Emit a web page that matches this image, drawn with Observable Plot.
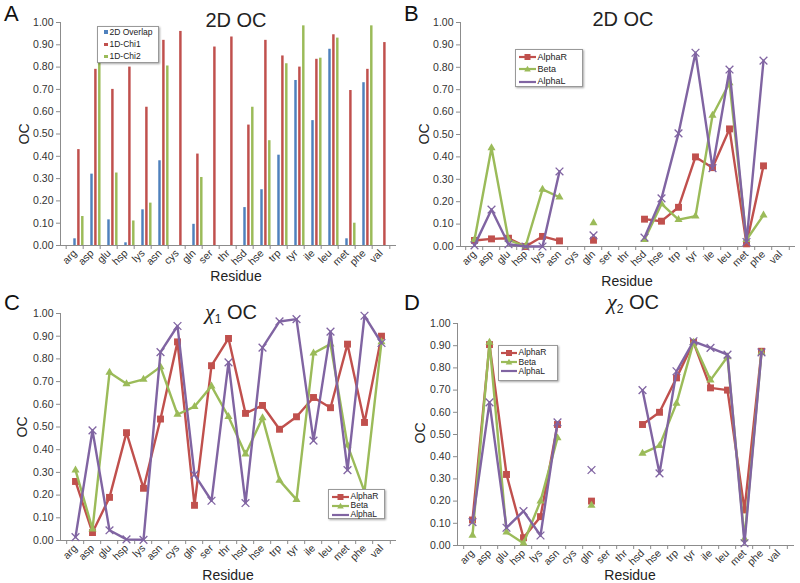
<!DOCTYPE html>
<html><head><meta charset="utf-8">
<script src="https://cdn.jsdelivr.net/npm/d3@7"></script>
<script src="https://cdn.jsdelivr.net/npm/@observablehq/plot@0.6"></script>
<style>
body{margin:0;background:#fff;font-family:"Liberation Sans",Arial,Helvetica,sans-serif;color:#222}
#wrap{position:relative;width:800px;height:583px;overflow:hidden;background:#fff}
.panel{position:absolute}
.t{position:absolute;white-space:nowrap;transform:translate(-50%,-50%);line-height:1}
.letter{position:absolute;font-size:22px;line-height:1;color:#111}
.legend{position:absolute;background:#fff;border:1px solid #999;box-shadow:1px 1px 2px rgba(0,0,0,0.35);box-sizing:border-box}
.row{position:absolute;left:0;display:flex;align-items:center;white-space:nowrap;line-height:1;color:#222}
</style></head>
<body><div id="wrap"></div>
<script>
// ---------------- data ----------------
const residues = ["arg","asp","glu","hsp","lys","asn","cys","gln","ser","thr","hsd","hse","trp","tyr","ile","leu","met","phe","val"];
const yTicks = [0,0.1,0.2,0.3,0.4,0.5,0.6,0.7,0.8,0.9,1.0];

// Panel A : 2D OC bars
const barSeries = ["2D Overlap","1D-Chi1","1D-Chi2"];
const overlap2D = [0.03,0.32,0.115,0.012,0.16,0.38,null,0.095,null,null,0.17,0.25,0.405,0.74,0.56,0.88,0.03,0.73,null];
const chi1_1D   = [0.43,0.79,0.70,0.80,0.62,0.92,0.96,0.41,0.89,0.935,0.54,0.92,0.85,0.80,0.835,0.945,0.695,0.79,0.91];
const chi2_1D   = [0.13,0.94,0.325,0.11,0.19,0.805,null,0.305,null,null,0.62,0.47,0.815,0.985,0.84,0.93,0.10,0.985,null];

// Panels B-D : line series
const lineSeries = ["AlphaR","Beta","AlphaL"];
// B : 2D OC
const oc2d_alphaR = [0.027,0.034,0.037,0.0,0.045,0.025,null,0.028,null,null,0.122,0.113,0.175,0.40,0.352,0.525,0.012,0.36,null];
const oc2d_beta   = [0.03,0.44,0.03,0.0,0.255,0.22,null,0.105,null,null,0.03,0.19,0.12,0.135,0.585,0.73,0.03,0.14,null];
const oc2d_alphaL = [0.005,0.165,0.01,0.0,0.0,0.335,null,0.05,null,null,0.04,0.215,0.505,0.865,0.35,0.79,0.02,0.83,null];
// C : chi1 OC
const chi1_alphaR = [0.26,0.035,0.19,0.475,0.23,0.535,0.875,0.155,0.77,0.89,0.56,0.595,0.49,0.545,0.63,0.585,0.865,0.52,0.90];
const chi1_beta   = [0.31,0.05,0.74,0.69,0.71,0.765,0.555,0.59,0.68,0.545,0.38,0.54,0.265,0.18,0.825,0.865,0.42,0.215,0.875];
const chi1_alphaL = [0.015,0.485,0.045,0.005,0.003,0.83,0.945,0.29,0.175,0.785,0.165,0.85,0.965,0.975,0.44,0.92,0.31,0.99,0.87];
// D : chi2 OC
const chi2_alphaR = [0.115,0.905,0.32,0.035,0.13,0.545,null,0.20,null,null,0.545,0.60,0.755,0.915,0.71,0.70,0.16,0.875,null];
const chi2_beta   = [0.045,0.915,0.06,0.01,0.20,0.485,null,0.18,null,null,0.415,0.45,0.64,0.915,0.745,0.85,0.03,0.87,null];
const chi2_alphaL = [0.105,0.645,0.08,0.155,0.045,0.555,null,0.34,null,null,0.70,0.325,0.785,0.92,0.89,0.86,0.01,0.87,null];

// ---------------- style ----------------
const FONT = '"Liberation Sans", Arial, Helvetica, sans-serif';
const barColors = ["#4f81bd","#c0504d","#9bbb59"];
const lineColors = ["#c0504d","#9bbb59","#8064a2"];
const AXIS = "#8c8c8c";
const wrap = document.getElementById("wrap");

function rows(seriesNames, arrays) {
  const out = [];
  seriesNames.forEach((s, k) => arrays[k].forEach((v, i) =>
    out.push({residue: residues[i], series: s, value: v == null ? NaN : v})));
  return out;
}

function axes(step) {
  return [
    Plot.frame({anchor: "left", stroke: AXIS}),
    Plot.frame({anchor: "bottom", stroke: AXIS}),
    Plot.axisY({ticks: yTicks, tickFormat: d3.format(".2f"), tickSize: 4, tickPadding: 3, stroke: AXIS, fill: "#333", label: null}),
    Plot.axisX({ticks: residues, tickSize: 0, tickPadding: 6, tickRotate: -45, fill: "#333", label: null}),
    Plot.axisX({ticks: residues, tickSize: 4, tickFormat: () => "", dx: -step / 2, stroke: AXIS, label: null}),
    Plot.axisX({ticks: [residues[residues.length - 1]], tickSize: 4, tickFormat: () => "", dx: step / 2, stroke: AXIS, label: null})
  ];
}

function place(svg, left, top) {
  const d = document.createElement("div");
  d.className = "panel";
  d.style.left = left + "px";
  d.style.top = top + "px";
  d.appendChild(svg);
  wrap.appendChild(d);
}

// ---------------- Panel A (bars) ----------------
(function () {
  const W = 400, H = 290, ml = 60, mr = 5, mt = 22, mb = 45;
  const step = (W - ml - mr) / residues.length;
  const data = rows(barSeries, [overlap2D, chi1_1D, chi2_1D]);
  const offs = [0, 3.9, 7.8];
  const bw = 3.1;
  const svg = Plot.plot({
    width: W, height: H, marginLeft: ml, marginRight: mr, marginTop: mt, marginBottom: mb,
    style: {fontFamily: FONT, fontSize: "10.5px", background: "transparent", overflow: "visible"},
    x: {type: "band", domain: residues, padding: 0, label: null},
    y: {domain: [0, 1], label: null},
    marks: [
      ...barSeries.map((s, k) => Plot.barY(data.filter(d => d.series === s && !isNaN(d.value)), {
        x: "residue", y: "value", fill: barColors[k],
        insetLeft: (step - bw) / 2, insetRight: (step - bw) / 2, dx: offs[k]
      })),
      ...axes(step)
    ]
  });
  place(svg, 0, 0);
})();

// ---------------- line panels ----------------
function linePanel({arrays, W, H, ml, mr, mt, mb, left, top}) {
  const step = (W - ml - mr) / residues.length;
  const data = rows(lineSeries, arrays);
  const marks = [];
  lineSeries.forEach((s, k) => {
    const sd = data.filter(d => d.series === s);
    marks.push(Plot.line(sd, {x: "residue", y: "value", stroke: lineColors[k], strokeWidth: 2.4}));
    const pts = sd.filter(d => !isNaN(d.value));
    if (k === 0) marks.push(Plot.dot(pts, {x: "residue", y: "value", symbol: "square", r: 3.9, fill: lineColors[k]}));
    if (k === 1) marks.push(Plot.dot(pts, {x: "residue", y: "value", symbol: "triangle", r: 3.0, fill: lineColors[k]}));
    if (k === 2) marks.push(Plot.dot(pts, {x: "residue", y: "value", symbol: "times", r: 3.6, stroke: lineColors[k], strokeWidth: 1.3, fill: "none"}));
  });
  const svg = Plot.plot({
    width: W, height: H, marginLeft: ml, marginRight: mr, marginTop: mt, marginBottom: mb,
    style: {fontFamily: FONT, fontSize: "10.5px", background: "transparent", overflow: "visible"},
    x: {type: "point", domain: residues, padding: 0.5, label: null},
    y: {domain: [0, 1], label: null},
    marks: [...axes(step), ...marks]
  });
  place(svg, left, top);
}

linePanel({arrays: [oc2d_alphaR, oc2d_beta, oc2d_alphaL], W: 400, H: 290, ml: 60, mr: 6, mt: 22, mb: 44, left: 400, top: 0});
linePanel({arrays: [chi1_alphaR, chi1_beta, chi1_alphaL], W: 400, H: 293, ml: 60, mr: 5, mt: 23, mb: 43, left: 0, top: 290});
linePanel({arrays: [chi2_alphaR, chi2_beta, chi2_alphaL], W: 400, H: 293, ml: 57, mr: 7, mt: 33, mb: 38, left: 400, top: 290});

// ---------------- text overlays ----------------
function text(html, x, y, size, extra) {
  const d = document.createElement("div");
  d.className = "t";
  d.style.left = x + "px";
  d.style.top = y + "px";
  d.style.fontSize = size + "px";
  if (extra) d.style.cssText += extra;
  d.innerHTML = html;
  wrap.appendChild(d);
}
function letter(ch, x, y) {
  const d = document.createElement("div");
  d.className = "letter";
  d.style.left = x + "px"; d.style.top = y + "px";
  d.textContent = ch;
  wrap.appendChild(d);
}
letter("A", 4, 3); letter("B", 404, 3); letter("C", 4, 292); letter("D", 404, 292);

const chi = '<span style="font-family:\'Liberation Serif\',serif;font-style:italic;font-size:22px">χ</span>';
text("2D OC", 236, 20, 20);
text("2D OC", 623, 19, 20);
text(chi + '<span style="font-size:12px;position:relative;top:4px">1</span> OC', 231, 312, 20);
text(chi + '<span style="font-size:12px;position:relative;top:4px">2</span> OC', 633, 302, 20);

text("Residue", 236, 276, 14);
text("Residue", 627, 281, 14);
text("Residue", 228, 575, 14);
text("Residue", 630, 575, 14);

text("OC", 24, 134, 14, "transform:translate(-50%,-50%) rotate(-90deg)");
text("OC", 424, 134, 14, "transform:translate(-50%,-50%) rotate(-90deg)");
text("OC", 22, 427, 14, "transform:translate(-50%,-50%) rotate(-90deg)");
text("OC", 420, 433, 14, "transform:translate(-50%,-50%) rotate(-90deg)");

// ---------------- legends ----------------
function barLegend(left, top, w, h) {
  const box = document.createElement("div");
  box.className = "legend";
  Object.assign(box.style, {left: left + "px", top: top + "px", width: w + "px", height: h + "px"});
  barSeries.forEach((s, k) => {
    const r = document.createElement("div");
    r.className = "row";
    r.style.top = (5 + k * 12.3 - 5) + "px";
    r.style.height = "10px";
    r.style.fontSize = "8.5px";
    r.innerHTML = `<span style="display:inline-block;width:3.5px;height:3.5px;background:${barColors[k]};margin-left:6px;margin-right:2px"></span>${s}`;
    box.appendChild(r);
  });
  wrap.appendChild(box);
}
function lineLegend(left, top, w, h, firstY, gap, fs, lineLeft, lineW) {
  const box = document.createElement("div");
  box.className = "legend";
  Object.assign(box.style, {left: left + "px", top: top + "px", width: w + "px", height: h + "px"});
  lineSeries.forEach((s, k) => {
    const c = lineColors[k];
    let mk;
    if (k === 0) mk = `<rect x="${lineW/2-3}" y="2" width="6" height="6" fill="${c}"/>`;
    else if (k === 1) mk = `<path d="M${lineW/2},1.8 L${lineW/2+3.3},7.5 L${lineW/2-3.3},7.5Z" fill="${c}"/>`;
    else mk = "";
    const r = document.createElement("div");
    r.className = "row";
    r.style.top = (firstY + k * gap - 5) + "px";
    r.style.height = "10px";
    r.style.fontSize = fs + "px";
    r.innerHTML = `<svg width="${lineW}" height="10" style="margin-left:${lineLeft}px;margin-right:1.5px;flex:none"><line x1="0" x2="${lineW}" y1="5" y2="5" stroke="${c}" stroke-width="2.2"/>${mk}</svg>${s}`;
    box.appendChild(r);
  });
  wrap.appendChild(box);
}
barLegend(97, 26, 62, 37);
lineLegend(515, 49, 68, 38, 7, 12.4, 9, 3, 17);
lineLegend(328, 489, 57, 30, 6.5, 9, 8.5, 3, 17);
lineLegend(498, 345, 60, 36, 6.5, 9.3, 8.5, 2, 16);
</script>
</body></html>
